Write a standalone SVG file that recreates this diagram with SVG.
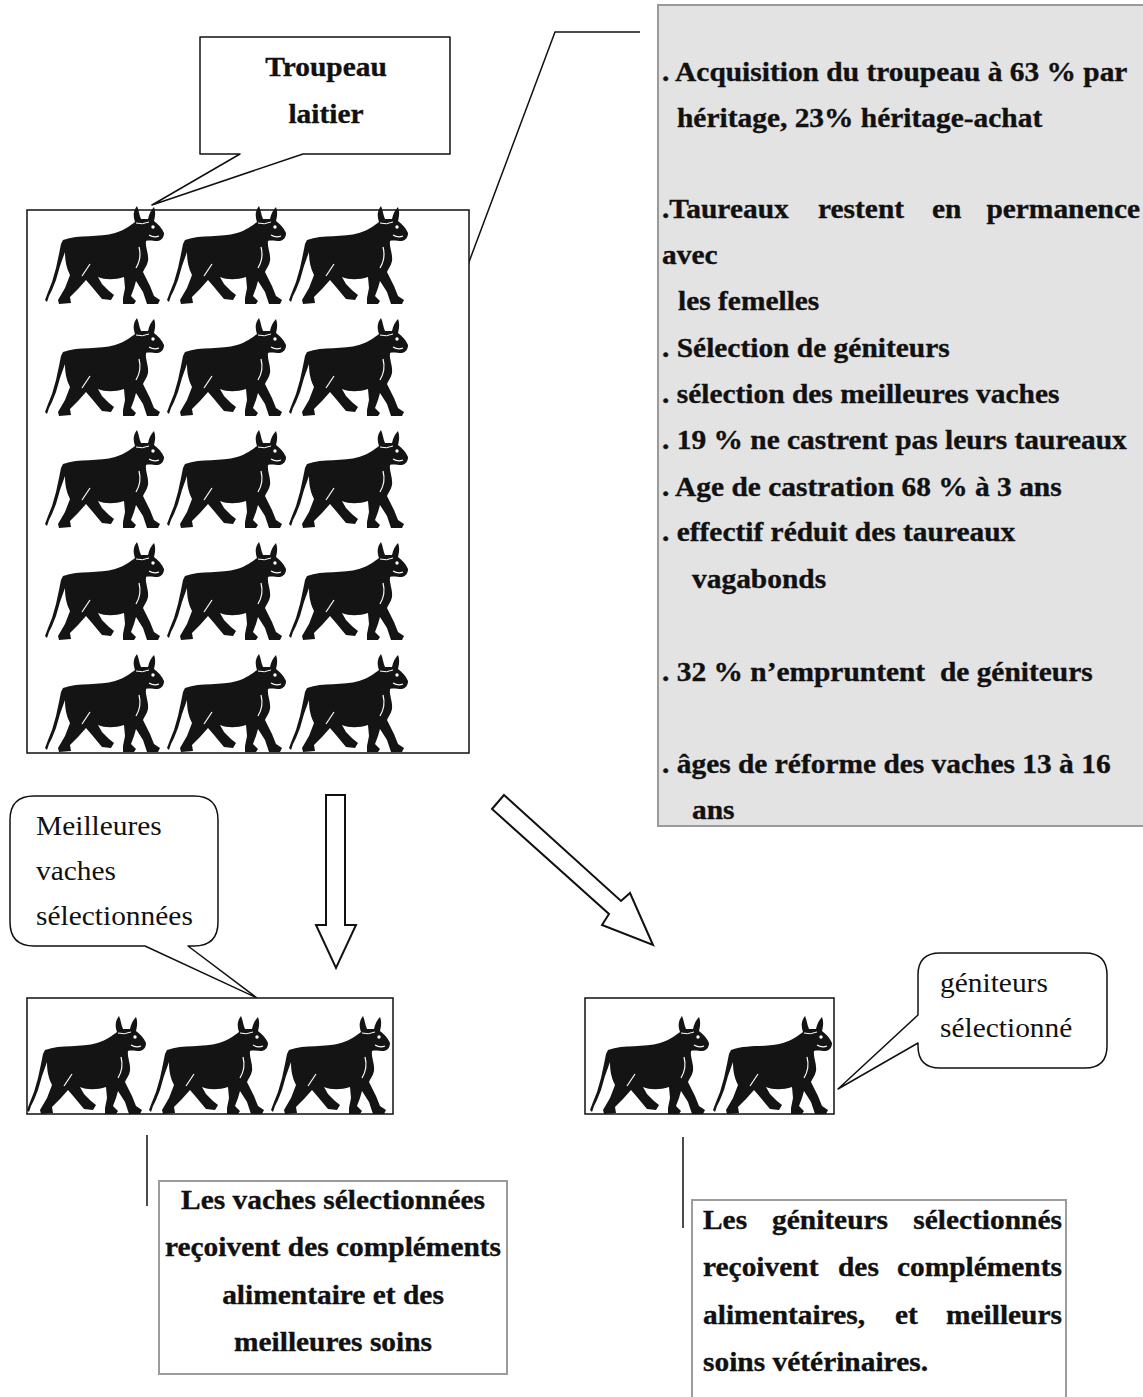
<svg xmlns="http://www.w3.org/2000/svg" width="1143" height="1397" viewBox="0 0 1143 1397">
  <style>
    .b { font-family: "Liberation Serif", "Times New Roman", serif; font-weight: bold; font-size: 27px; fill: #111; stroke: #111; stroke-width: 0.35; }
    .r { font-family: "Liberation Serif", "Times New Roman", serif; font-size: 27px; fill: #111; }
    .box { fill: #fff; stroke: #111; stroke-width: 1.5; }
    .callout { fill: #fff; stroke: #111; stroke-width: 1.5; stroke-linejoin: round; }
    .note { fill: #fff; stroke: #9c9c9c; stroke-width: 2; }
    .link { fill: none; stroke: #111; stroke-width: 1.5; }
    .block { fill: #fff; stroke: #111; stroke-width: 2; stroke-linejoin: miter; }
  </style>
  <defs>
    <!-- walking bull silhouette, about 119 x 100 -->
    <g id="bull">
      <path fill="#141414" d="M 18 36 C 34 30, 54 34, 70 29 C 80 26, 86 21, 90 18 C 88 12, 88 7, 92 2 C 94 6, 94 11, 96 15 L 103 15 C 104 10, 106 6, 109 3 C 111 8, 110 13, 109 17 C 113 20, 117 24, 119 29 C 119 33, 117 36, 113 37 C 108 37, 104 36, 101 37 C 100 43, 104 50, 103 57 C 102 62, 99 65, 98 68 L 105 82 L 109 92 L 115 96 L 113 100 L 102 100 L 98 88 L 91 77 L 89 84 L 86 92 L 91 97 L 89 100 L 78 100 L 78 94 L 80 84 L 79 73 C 70 76, 60 76, 53 73 L 57 80 L 64 87 L 69 91 L 66 96 L 57 95 L 47 83 L 41 76 L 33 85 L 25 93 L 26 99 L 14 100 L 13 96 L 20 84 L 25 71 C 21 63, 20 56, 20 48 L 15 62 L 11 76 L 7 86 L 4 92 L 2 98 L 0 96 L 3 88 L 7 78 L 11 64 L 14 50 L 16 40 Z"/>
      <circle cx="108" cy="23" r="1.7" fill="#fff"/>
      <path d="M 104 31 Q 109 34 114 32" fill="none" stroke="#fff" stroke-width="1.2"/>
      <path d="M 94 43 Q 97 54 91 64" fill="none" stroke="#fff" stroke-width="1.2"/>
      <path d="M 45 60 Q 41 66 37 72" fill="none" stroke="#fff" stroke-width="1.2"/>
      <path d="M 91 19 Q 97 21 104 18" fill="none" stroke="#fff" stroke-width="1"/>
    </g>
  </defs>

  <rect width="1143" height="1397" fill="#fff"/>

  <!-- summary of herd practices -->
  <g id="node-info">
    <rect x="658" y="5" width="495" height="821" fill="#e3e3e3" stroke="#9a9a9a" stroke-width="2"/>
    <text class="b" transform="translate(662 81) scale(1.09 1)">. Acquisition du troupeau à 63 % par</text>
    <text class="b" transform="translate(677 127) scale(1.09 1)">héritage, 23% héritage-achat</text>
    <text class="b" transform="translate(662 218) scale(1.09 1)">.Taureaux</text>
    <text class="b" transform="translate(818 218) scale(1.09 1)">restent</text>
    <text class="b" transform="translate(932 218) scale(1.09 1)">en</text>
    <text class="b" text-anchor="end" transform="translate(1140 218) scale(1.09 1)">permanence</text>
    <text class="b" transform="translate(662 264) scale(1.09 1)">avec</text>
    <text class="b" transform="translate(678 310) scale(1.09 1)">les femelles</text>
    <text class="b" transform="translate(662 357) scale(1.09 1)">. Sélection de géniteurs</text>
    <text class="b" transform="translate(662 403) scale(1.09 1)">. sélection des meilleures vaches</text>
    <text class="b" transform="translate(662 449) scale(1.09 1)">. 19 % ne castrent pas leurs taureaux</text>
    <text class="b" transform="translate(662 496) scale(1.09 1)">. Age de castration 68 % à 3 ans</text>
    <text class="b" transform="translate(662 541) scale(1.09 1)">. effectif réduit des taureaux</text>
    <text class="b" transform="translate(692 588) scale(1.09 1)">vagabonds</text>
    <text class="b" xml:space="preserve" transform="translate(662 681) scale(1.09 1)">. 32 % n’empruntent  de géniteurs</text>
    <text class="b" transform="translate(662 773) scale(1.09 1)">. âges de réforme des vaches 13 à 16</text>
    <text class="b" transform="translate(692 819) scale(1.09 1)">ans</text>
  </g>

  <!-- connectors -->
  <g id="connectors">
    <polyline class="link" points="640,32 555,32 466,270"/>
    <polygon class="block" points="326,795 345,795 345,925 356,925 336,968 316,925 326,925"/>
    <polygon class="block" points="504,795 621,901 630,893 653,945 602,925 609,914 492,809"/>
    <line class="link" x1="147" y1="1135" x2="147" y2="1206"/>
    <line class="link" x1="683" y1="1137" x2="683" y2="1228"/>
  </g>

  <!-- herd label -->
  <g id="node-troupeau-label">
    <path class="callout" d="M 200 37 H 450 V 154 H 303 L 152 205 L 240 154 H 200 Z"/>
    <text class="b" text-anchor="middle" transform="translate(326 76) scale(1.09 1)">Troupeau</text>
    <text class="b" text-anchor="middle" transform="translate(326 123) scale(1.09 1)">laitier</text>
  </g>

  <!-- dairy herd -->
  <g id="node-herd">
    <rect class="box" x="27" y="210" width="442" height="543"/>
    <use href="#bull" x="45" y="204"/>
    <use href="#bull" x="167" y="204"/>
    <use href="#bull" x="289" y="204"/>
    <use href="#bull" x="45" y="316"/>
    <use href="#bull" x="167" y="316"/>
    <use href="#bull" x="289" y="316"/>
    <use href="#bull" x="45" y="428"/>
    <use href="#bull" x="167" y="428"/>
    <use href="#bull" x="289" y="428"/>
    <use href="#bull" x="45" y="540"/>
    <use href="#bull" x="167" y="540"/>
    <use href="#bull" x="289" y="540"/>
    <use href="#bull" x="45" y="652"/>
    <use href="#bull" x="167" y="652"/>
    <use href="#bull" x="289" y="652"/>
  </g>

  <!-- selected cows label -->
  <g id="node-best-cows-label">
    <path class="callout" d="M 34 796 H 194 Q 218 796 218 820 V 922 Q 218 946 194 946 H 188 L 257 998 L 145 946 H 34 Q 10 946 10 922 V 820 Q 10 796 34 796 Z"/>
    <text class="r" transform="translate(36 835) scale(1.09 1)">Meilleures</text>
    <text class="r" transform="translate(36 880) scale(1.09 1)">vaches</text>
    <text class="r" transform="translate(36 925) scale(1.09 1)">sélectionnées</text>
  </g>

  <!-- selected cows -->
  <g id="node-cows">
    <rect class="box" x="27" y="998" width="366" height="116"/>
    <use href="#bull" x="27" y="1014"/>
    <use href="#bull" x="149" y="1014"/>
    <use href="#bull" x="271" y="1014"/>
  </g>

  <!-- selected sires -->
  <g id="node-sires">
    <rect class="box" x="585" y="998" width="249" height="116"/>
    <use href="#bull" x="590" y="1014"/>
    <use href="#bull" x="713" y="1014"/>
  </g>

  <!-- selected sires label -->
  <g id="node-sires-label">
    <path class="callout" d="M 940 953 H 1085 Q 1107 953 1107 975 V 1046 Q 1107 1068 1085 1068 H 940 Q 918 1068 918 1046 V 1043 L 838 1089 L 918 1015 V 975 Q 918 953 940 953 Z"/>
    <text class="r" transform="translate(940 992) scale(1.09 1)">géniteurs</text>
    <text class="r" transform="translate(940 1037) scale(1.09 1)">sélectionné</text>
  </g>

  <!-- care of selected cows -->
  <g id="node-cows-care">
    <rect class="note" x="159" y="1181" width="348" height="193"/>
    <text class="b" text-anchor="middle" transform="translate(333 1209) scale(1.09 1)">Les vaches sélectionnées</text>
    <text class="b" text-anchor="middle" transform="translate(333 1256) scale(1.09 1)">reçoivent des compléments</text>
    <text class="b" text-anchor="middle" transform="translate(333 1304) scale(1.09 1)">alimentaire et des</text>
    <text class="b" text-anchor="middle" transform="translate(333 1351) scale(1.09 1)">meilleures soins</text>
  </g>

  <!-- care of selected sires -->
  <g id="node-sires-care">
    <rect class="note" x="692" y="1200" width="374" height="210"/>
    <text class="b" transform="translate(703 1229) scale(1.09 1)">Les</text>
    <text class="b" transform="translate(772 1229) scale(1.09 1)">géniteurs</text>
    <text class="b" text-anchor="end" transform="translate(1062 1229) scale(1.09 1)">sélectionnés</text>
    <text class="b" transform="translate(703 1276) scale(1.09 1)">reçoivent</text>
    <text class="b" transform="translate(838 1276) scale(1.09 1)">des</text>
    <text class="b" text-anchor="end" transform="translate(1062 1276) scale(1.09 1)">compléments</text>
    <text class="b" transform="translate(703 1324) scale(1.09 1)">alimentaires,</text>
    <text class="b" transform="translate(895 1324) scale(1.09 1)">et</text>
    <text class="b" text-anchor="end" transform="translate(1062 1324) scale(1.09 1)">meilleurs</text>
    <text class="b" transform="translate(703 1371) scale(1.09 1)">soins vétérinaires.</text>
  </g>
</svg>
